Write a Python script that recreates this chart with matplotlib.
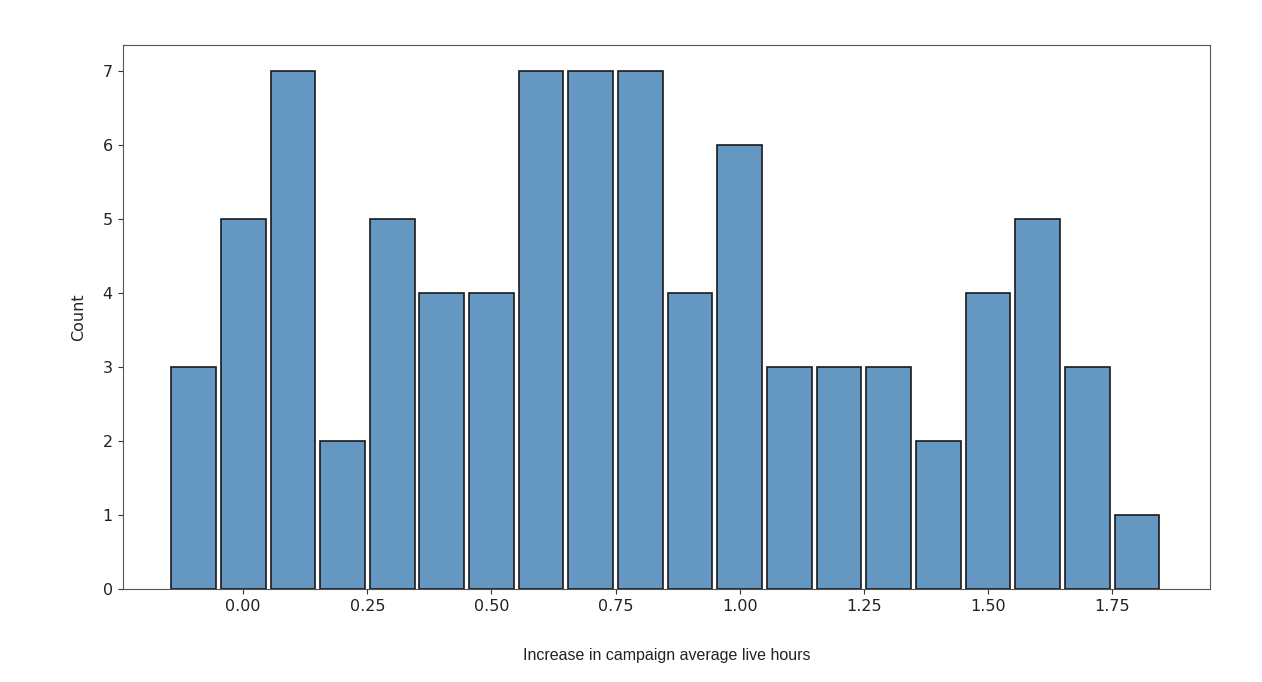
import matplotlib
matplotlib.use("Agg")
import matplotlib.pyplot as plt

bin_centers = [-0.1, 0.0, 0.1, 0.2, 0.3, 0.4, 0.5, 0.6, 0.7, 0.8,
               0.9, 1.0, 1.1, 1.2, 1.3, 1.4, 1.5, 1.6, 1.7, 1.8]
counts = [3, 5, 7, 2, 5, 4, 4, 7, 7, 7, 4, 6, 3, 3, 3, 2, 4, 5, 3, 1]
x_ticks = [0.00, 0.25, 0.50, 0.75, 1.00, 1.25, 1.50, 1.75]
y_ticks = [0, 1, 2, 3, 4, 5, 6, 7]

fig = plt.figure(figsize=(12.62, 6.82), dpi=100)
ax = fig.add_axes([0.0975, 0.1364, 0.8613, 0.7976])

ax.bar(bin_centers, counts, width=0.09, color="#6497C2", edgecolor="#1a1a1a", linewidth=1.2)
ax.set_xlim(-0.242, 1.947)
ax.set_ylim(0, 7.35)
ax.set_xticks(x_ticks)
ax.set_xticklabels([f"{t:.2f}" for t in x_ticks])
ax.set_yticks(y_ticks)
ax.tick_params(labelsize=11.5, colors="#333333", labelcolor="#222222", pad=4)
for s in ax.spines.values():
    s.set_color("#555555")
ax.set_ylabel("Count", fontsize=11.5, color="#222222", labelpad=12)
ax.set_xlabel("Increase in campaign average live hours", fontsize=11.5,
              family=["Liberation Sans", "DejaVu Sans"], labelpad=24, color="#222222")

fig.savefig("out.png", dpi=100)
